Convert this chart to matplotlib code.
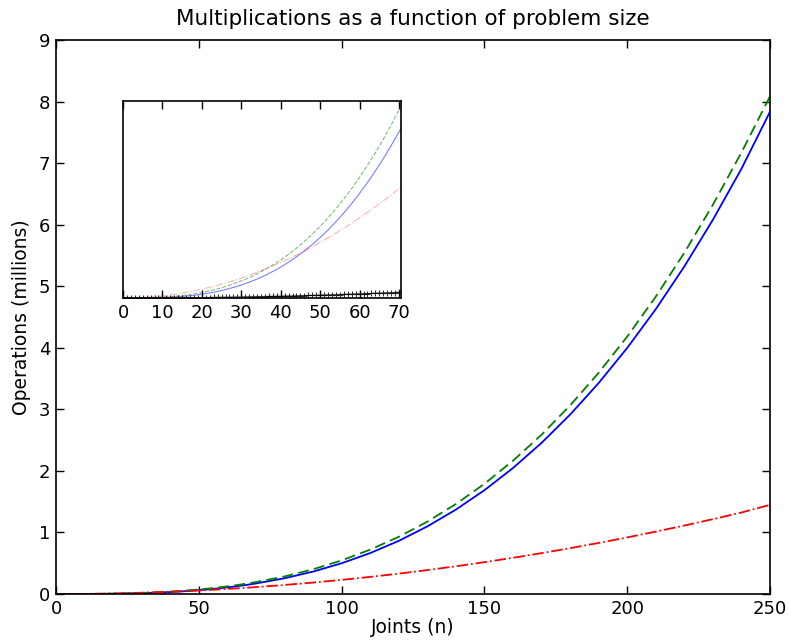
import matplotlib
matplotlib.use("Agg")
import matplotlib.pyplot as plt

# Problem sizes (joints n) and operations in millions
n = [0, 2, 4, 6, 8, 10, 12, 14, 16, 18, 20, 22, 24, 26, 28, 30, 32, 34, 36, 38,
     40, 42, 44, 46, 48, 50, 52, 54, 56, 58, 60, 62, 64, 66, 68, 70,
     80, 90, 100, 110, 120, 130, 140, 150, 160, 170, 180, 190, 200, 210, 220,
     230, 240, 250]
blue_ops = [0.0, 0.000004, 0.000032, 0.000108, 0.000256, 0.0005, 0.000864,
            0.001372, 0.002048, 0.002916, 0.004, 0.005324, 0.006912, 0.008788,
            0.010976, 0.0135, 0.016384, 0.019652, 0.023328, 0.027436, 0.032,
            0.037044, 0.042592, 0.048668, 0.055296, 0.0625, 0.070304, 0.078732,
            0.087808, 0.097556, 0.108, 0.119164, 0.131072, 0.143748, 0.157216,
            0.1715,
            0.256, 0.3645, 0.5, 0.6655, 0.864, 1.0985, 1.372, 1.6875, 2.048,
            2.4565, 2.916, 3.4295, 4.0, 4.6305, 5.324, 6.0835, 6.912, 7.84]
green_ops = [0.0, 0.00002, 0.00011, 0.00027, 0.00055, 0.00096, 0.00153, 0.00227,
             0.00323, 0.00441, 0.00584, 0.00755, 0.00956, 0.0119, 0.01458,
             0.01764, 0.02109, 0.02497, 0.02929, 0.03408, 0.03936, 0.04516,
             0.0515, 0.0584, 0.06589, 0.074, 0.08274, 0.09215, 0.10223, 0.11303,
             0.12456, 0.13685, 0.14991, 0.16379, 0.17849, 0.19404,
             0.285, 0.402, 0.546, 0.721, 0.930, 1.176, 1.462, 1.791, 2.166,
             2.589, 3.065, 3.596, 4.184, 4.833, 5.547, 6.327, 7.177, 8.09]
red_ops = [0.0, 0.000092, 0.000368, 0.000828, 0.001472, 0.0023, 0.003312,
           0.004508, 0.005888, 0.007452, 0.0092, 0.011132, 0.013248, 0.015548,
           0.018032, 0.0207, 0.023552, 0.026588, 0.029808, 0.033212, 0.0368,
           0.040572, 0.044528, 0.048668, 0.052992, 0.0575, 0.062192, 0.067068,
           0.072128, 0.077372, 0.0828, 0.088412, 0.094208, 0.100188, 0.106352,
           0.1127,
           0.1472, 0.1863, 0.23, 0.2783, 0.3312, 0.3887, 0.4508, 0.5175, 0.5888,
           0.6647, 0.7452, 0.8303, 0.92, 1.0143, 1.1132, 1.2167, 1.3248, 1.45]

# Inset-only series (black, '+' markers), one point per joint
n_small = list(range(0, 71))
black_ops = [0.0, 0.0, 0.0, 0.00001, 0.00002, 0.00003, 0.00004, 0.00006, 0.00008,
             0.0001, 0.00012, 0.00015, 0.00017, 0.0002, 0.00024, 0.00027, 0.00031,
             0.00035, 0.00039, 0.00043, 0.00048, 0.00053, 0.00058, 0.00063,
             0.00069, 0.00075, 0.00081, 0.00087, 0.00094, 0.00101, 0.00108,
             0.00115, 0.00123, 0.00131, 0.00139, 0.00147, 0.00156, 0.00164,
             0.00173, 0.00183, 0.00192, 0.00202, 0.00212, 0.00222, 0.00232,
             0.00243, 0.00254, 0.00265, 0.00276, 0.00288, 0.003, 0.00312, 0.00324,
             0.00337, 0.0035, 0.00363, 0.00376, 0.0039, 0.00404, 0.00418, 0.00432,
             0.00447, 0.00461, 0.00476, 0.00492, 0.00507, 0.00523, 0.00539,
             0.00555, 0.00571, 0.00588]

plt.rcParams['font.family'] = ['DejaVu Sans']
plt.rcParams['xtick.direction'] = 'in'
plt.rcParams['ytick.direction'] = 'in'

fig = plt.figure(figsize=(7.89, 6.41), dpi=100)
ax = fig.add_axes([0.071, 0.0733, 0.905, 0.864])
ax.plot(n, blue_ops, color='blue', linestyle='-', lw=1.3)
ax.plot(n, green_ops, color='green', linestyle='--', lw=1.3, dashes=(6, 3))
ax.plot(n, red_ops, color='red', linestyle='-.', lw=1.3)
ax.set_xlim(0, 250)
ax.set_ylim(0, 9)
ax.set_xticks([0, 50, 100, 150, 200, 250])
ax.set_yticks(range(0, 10))
ax.tick_params(axis='both', which='both', top=True, right=True, labelsize=13,
               length=6, width=1, pad=4)
ax.set_title('Multiplications as a function of problem size', fontsize=15.5, pad=11)
ax.set_xlabel('Joints (n)', fontsize=13.5, labelpad=0)
ax.set_ylabel('Operations (millions)', fontsize=13.5, labelpad=6)
for s in ax.spines.values():
    s.set_linewidth(1.2)

ins = fig.add_axes([0.1559, 0.535, 0.3523, 0.307])
ins.plot(n, blue_ops, color='blue', linestyle='-', lw=0.8, alpha=0.5)
ins.plot(n, green_ops, color='green', linestyle='--', lw=0.8, alpha=0.5)
ins.plot(n, red_ops, color='red', linestyle='-.', lw=0.8, alpha=0.3)
ins.plot(n_small, black_ops, color='black', linestyle='-', lw=0.8, marker='+',
         markersize=4, markeredgewidth=0.8, alpha=0.8)
ins.set_xlim(0, 70.5)
ins.set_ylim(0, 0.203)
ins.set_xticks(range(0, 71, 10))
ins.set_yticks([])
ins.tick_params(axis='x', top=True, labelsize=13, length=6, width=1, pad=4)
for s in ins.spines.values():
    s.set_linewidth(1.2)

fig.savefig('out.png', dpi=100)
